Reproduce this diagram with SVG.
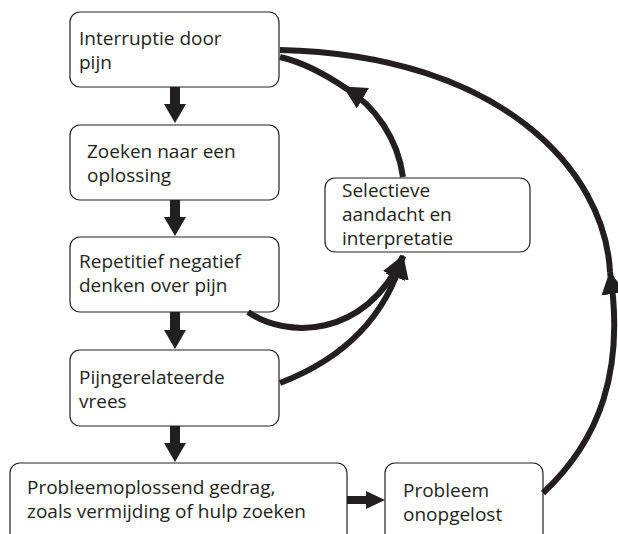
<svg xmlns="http://www.w3.org/2000/svg" width="618" height="534" viewBox="0 0 618 534">
<style>
.box{fill:#fff;stroke:#231f20;stroke-width:1.2}
.t{font-family:"Open Sans","Liberation Sans",sans-serif;font-size:19px;fill:#231f20}
.c{fill:none;stroke:#231f20;stroke-width:6}
.a{fill:#231f20}
</style>
<defs>
<marker id="ah" markerUnits="userSpaceOnUse" markerWidth="26" markerHeight="26" refX="22" refY="12" orient="auto">
<path d="M0,0 L23,12 L0,24 Z" fill="#231f20"/>
</marker>
</defs>
<g id="n1"><rect class="box" x="70" y="12" width="209" height="75" rx="10"/><text class="t" x="79" y="45">Interruptie door</text><text class="t" x="79" y="69">pijn</text></g>
<g id="n2"><rect class="box" x="70" y="125" width="209" height="75" rx="10"/><text class="t" x="87" y="158">Zoeken naar een</text><text class="t" x="87" y="182">oplossing</text></g>
<g id="n3"><rect class="box" x="70" y="237" width="209" height="75" rx="10"/><text class="t" x="79" y="268">Repetitief negatief</text><text class="t" x="79" y="292">denken over pijn</text></g>
<g id="n4"><rect class="box" x="70" y="350" width="209" height="76" rx="10"/><text class="t" x="79" y="384">Pijngerelateerde</text><text class="t" x="79" y="408">vrees</text></g>
<g id="n5"><rect class="box" x="10" y="463" width="337" height="85" rx="10"/><text class="t" x="27" y="494">Probleemoplossend gedrag,</text><text class="t" x="27" y="518">zoals vermijding of hulp zoeken</text></g>
<g id="n6"><rect class="box" x="385" y="463" width="158" height="85" rx="10"/><text class="t" x="403" y="497">Probleem</text><text class="t" x="403" y="521">onopgelost</text></g>
<g id="n7"><rect class="box" x="325" y="178" width="205" height="74" rx="10"/><text class="t" x="342" y="197">Selectieve</text><text class="t" x="342" y="221">aandacht en</text><text class="t" x="342" y="245">interpretatie</text></g>
<g id="connectors">
<path class="a" d="M170,87 H180 V104 H186 L175,123 L164,104 H170 Z"/>
<path class="a" d="M170,200 H180 V217 H186 L175,236 L164,217 H170 Z"/>
<path class="a" d="M170,312 H180 V330 H186 L175,349 L164,330 H170 Z"/>
<path class="a" d="M170,426 H180 V443 H186 L175,462 L164,443 H170 Z"/>
<path class="a" d="M347,496 H366 V491 L385,500 L366,509 V504 H347 Z"/>
<path class="c" d="M543,493 C600,440 625,370 610,272" marker-end="url(#ah)"/>
<path class="c" d="M610,272 C605,170 500,55 280,50"/>
<path class="c" d="M403,177 C398,140 376,106 344,87" marker-end="url(#ah)"/>
<path class="c" d="M347,89 C325,74 302,62 280,57"/>
<path class="c" d="M248,312 C285,338 365,340 403,256" marker-end="url(#ah)"/>
<path class="c" d="M280,383 C340,360 385,320 403,256" marker-end="url(#ah)"/>
</g>
</svg>
